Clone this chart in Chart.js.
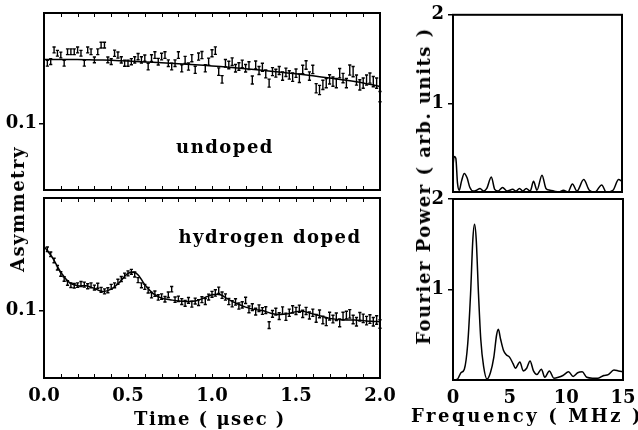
<!DOCTYPE html>
<html>
<head>
<meta charset="utf-8">
<script src="https://cdn.jsdelivr.net/npm/chart.js@4.4.1/dist/chart.umd.min.js"></script>
<style>
body { margin: 0; background: #fff; }
#wrap { position: relative; width: 638px; height: 430px; overflow: hidden; font-family: "DejaVu Serif", serif; font-weight: bold; }
#wrap canvas { position: absolute; left: 0; top: 0; }
.lbl { position: absolute; font-size: 18px; line-height: 1; letter-spacing: 1.5px; white-space: nowrap; color: #000; transform: translate(-50%, -50%); }
.vert { transform: translate(-50%, -50%) rotate(-90deg); }
</style>
</head>
<body>
<div id="wrap">
  <canvas id="asymTop" width="638" height="430"></canvas>
  <canvas id="asymBot" width="638" height="430"></canvas>
  <canvas id="fftTop" width="638" height="430"></canvas>
  <canvas id="fftBot" width="638" height="430"></canvas>
  <div class="lbl vert" style="left:18px; top:209px;">Asymmetry</div>
  <div class="lbl vert" style="left:424px; top:186px;">Fourier Power ( arb. units )</div>
  <div class="lbl" style="left:225px; top:147px;">undoped</div>
  <div class="lbl" style="left:270px; top:237px;">hydrogen doped</div>
  <div class="lbl" style="left:210px; top:419px;">Time ( &mu;sec )</div>
  <div class="lbl" style="left:527px; top:416px; letter-spacing:2.6px;">Frequency ( MHz )</div>
</div>
<script>
// --- data ---
// asymmetry points, one every 0.02 usec from 0.02 to 2.00
const asymUndoped = [
  0.1273, 0.1280, 0.1333, 0.1318, 0.1310, 0.1273, 0.1325, 0.1325, 0.1325, 0.1333,
  0.1318, 0.1273, 0.1333, 0.1325, 0.1288, 0.1325, 0.1355, 0.1355, 0.1288, 0.1280,
  0.1318, 0.1310, 0.1288, 0.1273, 0.1273, 0.1280, 0.1288, 0.1303, 0.1288, 0.1296,
  0.1258, 0.1296, 0.1310, 0.1280, 0.1303, 0.1310, 0.1273, 0.1258, 0.1273, 0.1310,
  0.1250, 0.1288, 0.1258, 0.1296, 0.1243, 0.1303, 0.1310, 0.1250, 0.1280, 0.1318,
  0.1330, 0.1235, 0.1200, 0.1273, 0.1265, 0.1280, 0.1250, 0.1258, 0.1270, 0.1250,
  0.1262, 0.1197, 0.1265, 0.1240, 0.1255, 0.1225, 0.1183, 0.1235, 0.1228, 0.1240,
  0.1215, 0.1232, 0.1220, 0.1210, 0.1228, 0.1205, 0.1245, 0.1265, 0.1215, 0.1245,
  0.1160, 0.1152, 0.1175, 0.1183, 0.1200, 0.1190, 0.1183, 0.1228, 0.1206, 0.1183,
  0.1242, 0.1235, 0.1197, 0.1175, 0.1183, 0.1197, 0.1206, 0.1190, 0.1183, 0.1122
];
const asymDoped = [
  0.1272, 0.1250, 0.1222, 0.1190, 0.1162, 0.1140, 0.1122, 0.1112, 0.1110, 0.1113,
  0.1118, 0.1115, 0.1108, 0.1112, 0.1102, 0.1110, 0.1092, 0.1085, 0.1090, 0.1105,
  0.1112, 0.1128, 0.1140, 0.1155, 0.1165, 0.1172, 0.1160, 0.1135, 0.1112, 0.1105,
  0.1090, 0.1068, 0.1075, 0.1058, 0.1062, 0.1050, 0.1070, 0.1095, 0.1048, 0.1052,
  0.1040, 0.1032, 0.1045, 0.1028, 0.1042, 0.1035, 0.1048, 0.1040, 0.1060, 0.1072,
  0.1078, 0.1090, 0.1068, 0.1060, 0.1040, 0.1030, 0.1038, 0.1020, 0.1025, 0.1045,
  0.1005, 0.1015, 0.0995, 0.1010, 0.0998, 0.1002, 0.0935, 0.0985, 0.0995, 0.0975,
  0.1000, 0.0972, 0.0990, 0.1005, 0.0998, 0.1008, 0.0985, 0.0998, 0.0978, 0.0990,
  0.0965, 0.0985, 0.0958, 0.0950, 0.0975, 0.0962, 0.0972, 0.0945, 0.0975, 0.0980,
  0.0985, 0.0960, 0.0950, 0.0972, 0.0965, 0.0955, 0.0962, 0.0950, 0.0958, 0.0940
];
// error bar half-heights, one per block of 10 points
const errUndoped = [0.0013, 0.0013, 0.0014, 0.0015, 0.0016, 0.0017, 0.0018, 0.0019, 0.0021, 0.0023];
const errDoped = [0.0010, 0.0011, 0.0011, 0.0012, 0.0013, 0.0014, 0.0015, 0.0016, 0.0017, 0.0019];

// fit curves: undoped every 0.1 usec, doped every 0.05 usec
const fitUndoped = [0.1290, 0.1290, 0.1290, 0.1288, 0.1286, 0.1283, 0.1279, 0.1275, 0.1271, 0.1266,
  0.1261, 0.1255, 0.1248, 0.1241, 0.1233, 0.1225, 0.1216, 0.1206, 0.1196, 0.1184, 0.1168];
const fitDoped = [0.1285, 0.1235, 0.1170, 0.1125, 0.1110, 0.1110, 0.1098, 0.1085, 0.1095, 0.1125,
  0.1165, 0.1165, 0.1115, 0.1075, 0.1055, 0.1048, 0.1042, 0.1040, 0.1042, 0.1055,
  0.1070, 0.1070, 0.1048, 0.1030, 0.1015, 0.1005, 0.1000, 0.0988, 0.0982, 0.0985,
  0.0995, 0.0995, 0.0985, 0.0975, 0.0965, 0.0960, 0.0958, 0.0958, 0.0955, 0.0952, 0.0950];

// Fourier power spectra
const freqUndoped = [0, 0.1, 0.25, 0.4, 0.55, 0.75, 1.0, 1.25, 1.5, 1.8, 2.1, 2.4, 2.7, 3.0, 3.4, 3.7, 4.0, 4.4,
  4.8, 5.3, 5.6, 5.9, 6.2, 6.5, 6.85, 7.15, 7.45, 7.9, 8.25, 8.6, 9.0, 9.4, 9.8, 10.2, 10.6, 11.0,
  11.6, 12.1, 12.6, 13.2, 13.6, 14.2, 14.7, 15.0];
const powerUndoped = [0.30, 0.40, 0.38, 0.10, 0.02, 0.12, 0.21, 0.16, 0.05, 0.01, 0.02, 0.04, 0.01, 0.04, 0.17, 0.03, 0.01, 0.05,
  0.01, 0.03, 0.01, 0.04, 0.01, 0.04, 0.01, 0.12, 0.02, 0.19, 0.04, 0.02, 0.01, 0.00, 0.02, 0.00, 0.09, 0.01,
  0.14, 0.02, 0.00, 0.08, 0.00, 0.02, 0.14, 0.12];
const freqDoped = [0, 0.4, 0.7, 1.0, 1.3, 1.55, 1.75, 1.9, 2.05, 2.25, 2.45, 2.7, 3.0, 3.3, 3.6, 3.85, 4.0, 4.2,
  4.45, 4.7, 5.0, 5.3, 5.5, 5.9, 6.2, 6.5, 6.8, 7.1, 7.4, 7.8, 8.1, 8.5, 8.9, 9.3, 9.7, 10.2, 10.6,
  11.0, 11.4, 11.8, 12.3, 12.8, 13.3, 13.7, 14.2, 14.6, 15.0];
const powerDoped = [0.00, 0.01, 0.08, 0.12, 0.40, 0.95, 1.55, 1.72, 1.55, 0.95, 0.45, 0.15, 0.01, 0.08, 0.25, 0.50, 0.56, 0.45,
  0.33, 0.28, 0.25, 0.18, 0.13, 0.20, 0.10, 0.13, 0.21, 0.10, 0.06, 0.12, 0.03, 0.10, 0.02, 0.03, 0.05, 0.09, 0.04,
  0.08, 0.09, 0.03, 0.02, 0.02, 0.05, 0.06, 0.11, 0.10, 0.09];

const timeTicks = [0, 0.5, 1.0, 1.5, 2.0];
const freqTicks = [0, 5, 10, 15];

// --- drawing ---
const W = 638, H = 430;
const tickFont = { family: 'DejaVu Serif', weight: 'bold', size: 18 };

function boxPlugin(minorStep) {
  return {
    id: 'box',
    afterDraw(chart) {
      const { ctx, chartArea: a, scales } = chart;
      ctx.save();
      ctx.strokeStyle = '#000';
      if (minorStep) {
        ctx.lineWidth = 1;
        ctx.beginPath();
        for (let k = 1; k * minorStep < scales.x.max - 1e-9; k++) {
          const px = Math.round(scales.x.getPixelForValue(k * minorStep)) + 0.5;
          ctx.moveTo(px, a.bottom); ctx.lineTo(px, a.bottom - 4);
          ctx.moveTo(px, a.top); ctx.lineTo(px, a.top + 4);
        }
        ctx.stroke();
      }
      ctx.lineWidth = 2;
      ctx.strokeRect(a.left, a.top, a.right - a.left, a.bottom - a.top);
      ctx.restore();
    }
  };
}

function errPlugin(err) {
  return {
    id: 'errbars',
    afterDatasetsDraw(chart) {
      const { ctx, scales: { x, y } } = chart;
      const pts = chart.data.datasets[0].data;
      ctx.save();
      ctx.strokeStyle = '#000';
      ctx.lineWidth = 1.4;
      ctx.beginPath();
      pts.forEach((p, i) => {
        const e = err[Math.floor(i / 10)];
        const px = x.getPixelForValue(p.x);
        const y1 = y.getPixelForValue(p.y - e);
        const y2 = y.getPixelForValue(p.y + e);
        ctx.moveTo(px, y1); ctx.lineTo(px, y2);
        ctx.moveTo(px - 1.6, y1); ctx.lineTo(px + 1.6, y1);
        ctx.moveTo(px - 1.6, y2); ctx.lineTo(px + 1.6, y2);
      });
      ctx.stroke();
      ctx.restore();
    }
  };
}

function makePanel(id, box, o) {
  return new Chart(document.getElementById(id), {
    type: 'scatter',
    data: { datasets: o.datasets },
    options: {
      responsive: false,
      animation: false,
      events: [],
      layout: { padding: { left: 0, top: box.top, right: W - box.right, bottom: 0 } },
      plugins: { legend: { display: false }, tooltip: { enabled: false } },
      scales: {
        x: {
          type: 'linear', min: o.xMin, max: o.xMax,
          afterFit: s => { s.height = H - box.bottom; },
          afterBuildTicks: s => { s.ticks = o.xTicks.map(v => ({ value: v })); },
          grid: { display: false },
          border: { display: false },
          ticks: { display: o.xLabels, color: '#000', font: tickFont, padding: 0, maxRotation: 0, autoSkip: false,
                   callback: o.xFmt }
        },
        y: {
          type: 'linear', min: o.yMin, max: o.yMax,
          afterFit: s => { s.width = box.left; },
          afterBuildTicks: s => { s.ticks = o.yTicks.map(v => ({ value: v })); },
          grid: { drawOnChartArea: false, color: '#000', tickLength: 5, lineWidth: 1.5 },
          border: { display: false },
          ticks: { color: '#000', font: tickFont, padding: o.yPad, callback: o.yFmt }
        }
      }
    },
    plugins: o.plugins
  });
}

function points(vals) {
  return vals.map((v, i) => ({ x: (i + 1) * 0.02, y: v }));
}
function fitLine(vals, step) {
  return vals.map((v, i) => ({ x: i * step, y: v }));
}
function spectrum(f, p) {
  return f.map((v, i) => ({ x: v, y: p[i] }));
}

const lineStyle = { showLine: true, borderColor: '#000', borderWidth: 1.5, pointRadius: 0, fill: false };

makePanel('asymTop', { left: 44, top: 13, right: 380, bottom: 190 }, {
  datasets: [
    { data: points(asymUndoped), pointRadius: 0 },
    Object.assign({ data: fitLine(fitUndoped, 0.1), tension: 0.3 }, lineStyle)
  ],
  xMin: 0, xMax: 2, xTicks: timeTicks, xLabels: false, xFmt: v => v.toFixed(1),
  yMin: 0.07, yMax: 0.15, yTicks: [0.1], yPad: 2, yFmt: v => v.toFixed(1),
  plugins: [errPlugin(errUndoped), boxPlugin(0.1)]
});

makePanel('asymBot', { left: 44, top: 198, right: 380, bottom: 378 }, {
  datasets: [
    { data: points(asymDoped), pointRadius: 0 },
    Object.assign({ data: fitLine(fitDoped, 0.05), tension: 0.4 }, lineStyle)
  ],
  xMin: 0, xMax: 2, xTicks: timeTicks, xLabels: true, xFmt: v => v.toFixed(1),
  yMin: 0.07, yMax: 0.15, yTicks: [0.1], yPad: 2, yFmt: v => v.toFixed(1),
  plugins: [errPlugin(errDoped), boxPlugin(0.1)]
});

makePanel('fftTop', { left: 453, top: 14, right: 622, bottom: 192 }, {
  datasets: [
    Object.assign({ data: spectrum(freqUndoped, powerUndoped), cubicInterpolationMode: 'monotone' }, lineStyle)
  ],
  xMin: 0, xMax: 15, xTicks: freqTicks, xLabels: false, xFmt: v => String(v),
  yMin: 0, yMax: 2, yTicks: [1, 2], yPad: 4, yFmt: v => String(v),
  plugins: [boxPlugin(0)]
});

makePanel('fftBot', { left: 453, top: 199, right: 623, bottom: 380 }, {
  datasets: [
    Object.assign({ data: spectrum(freqDoped, powerDoped), cubicInterpolationMode: 'monotone' }, lineStyle)
  ],
  xMin: 0, xMax: 15, xTicks: freqTicks, xLabels: true, xFmt: v => String(v),
  yMin: 0, yMax: 2, yTicks: [1, 2], yPad: 4, yFmt: v => String(v),
  plugins: [boxPlugin(0)]
});
</script>
</body>
</html>
